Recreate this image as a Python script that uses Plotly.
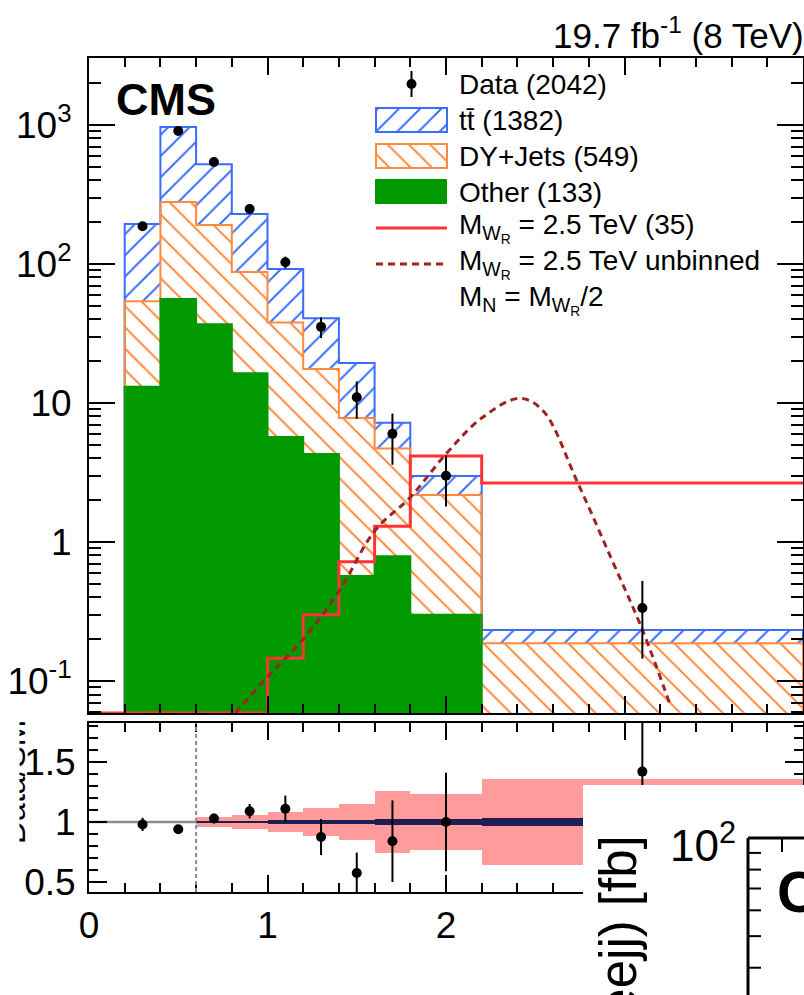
import numpy as np
import plotly.graph_objects as go

# ---------------- data (events / 0.2 TeV) ----------------
bin_edges = [0.2, 0.4, 0.6, 0.8, 1.0, 1.2, 1.4, 1.6, 1.8, 2.2, 4.0]
stack_total = [194, 968, 523, 229, 92, 40.8, 19.4, 7.2, 2.98, 0.233]   # ttbar + DY + other
stack_dy = [54, 279, 191, 87.5, 38, 17.6, 7.8, 4.7, 2.18, 0.187]       # DY + other
stack_other = [13.1, 56, 36.8, 16.4, 5.7, 4.3, 0.57, 0.79, 0.30, 0.01]

signal_edges = [0.0, 0.2, 0.4, 0.6, 0.8, 1.0, 1.2, 1.4, 1.6, 1.8, 2.2, 4.0]
signal_binned = [0, 0, 0, 0, 0, 0.146, 0.30, 0.72, 1.30, 4.16, 2.66]

unbinned_x = [0.82, 1.0, 1.2, 1.4, 1.6, 1.8, 2.0, 2.2, 2.41, 2.54, 2.74, 2.93, 3.1, 3.26]
unbinned_y = [0.059, 0.107, 0.20, 0.44, 1.2, 2.1, 4.3, 7.8, 10.8, 8.9, 2.63, 0.74, 0.234, 0.065]

data_x = [0.3, 0.5, 0.7, 0.9, 1.1, 1.3, 1.5, 1.7, 2.0, 3.1]
data_y = [187, 906, 542, 249, 103, 35.3, 11.0, 6.0, 3.0, 0.335]
data_err = [14, 30, 23, 16, 10, 6.0, 3.3, 2.4, 1.2, 0.19]

ratio_y = [0.98, 0.94, 1.03, 1.09, 1.11, 0.875, 0.575, 0.84, 1.0, 1.42]
ratio_err = [0.055, 0.03, 0.04, 0.06, 0.11, 0.15, 0.17, 0.34, 0.41, 0.8]

band_edges = [0.6, 0.8, 1.0, 1.2, 1.4, 1.6, 1.8, 2.2, 4.0]
band_syst = [0.044, 0.06, 0.085, 0.115, 0.15, 0.26, 0.23, 0.36]
band_stat = [0.012, 0.012, 0.014, 0.016, 0.02, 0.025, 0.028, 0.03]
cut_x = 0.6

y_tickvals = [0.1, 1, 10, 100, 1000]
y_ticktext = ["10<sup>-1</sup>", "1", "10", "10<sup>2</sup>", "10<sup>3</sup>"]

legend_labels = ["Data (2042)", "tt\u0304 (1382)", "DY+Jets (549)", "Other (133)",
                 "M<sub>W<sub>R</sub></sub> = 2.5 TeV (35)",
                 "M<sub>W<sub>R</sub></sub> = 2.5 TeV unbinned",
                 "M<sub>N</sub> = M<sub>W<sub>R</sub></sub>/2"]

# ---------------- style ----------------
FONT = "Liberation Sans, Arial, Helvetica, sans-serif"
C_TT = "#3a6cff"
C_DY = "#ff8a3d"
C_OT = "#009a00"
C_SIG = "#ff3333"
C_UNB = "#9b2424"
C_BAND = "#ff9b9b"
C_STAT = "#1e1e52"

W, H = 804, 995
PL, PR, PT, PB = 89, 803, 58, 995


def xp(px):
    return (px - PL) / (PR - PL)


def yp(py):
    return (PB - py) / (PB - PT)


def step_xy(edges, vals, floor):
    xs, ys = [edges[0]], [floor]
    for i, v in enumerate(vals):
        xs += [edges[i], edges[i + 1]]
        ys += [v, v]
    xs.append(edges[-1])
    ys.append(floor)
    return xs, ys


edges = np.array(bin_edges)
centers = (edges[:-1] + edges[1:]) / 2
widths = np.diff(edges)
LOG_MIN, LOG_MAX = -1.23, 3.482
y_floor = 10 ** LOG_MIN

fig = go.Figure()

# stacked backgrounds as overlaid fills
fig.add_trace(go.Bar(x=centers, y=stack_total, width=widths,
                     marker=dict(color="white", line=dict(width=0),
                                 pattern=dict(shape="/", fgcolor=C_TT, bgcolor="white",
                                              size=15, solidity=0.13, fillmode="replace")),
                     showlegend=False))
fig.add_trace(go.Bar(x=centers, y=stack_dy, width=widths,
                     marker=dict(color="white", line=dict(width=0),
                                 pattern=dict(shape="\\", fgcolor=C_DY, bgcolor="white",
                                              size=15, solidity=0.13, fillmode="replace")),
                     showlegend=False))
fig.add_trace(go.Bar(x=centers, y=stack_other, width=widths,
                     marker=dict(color=C_OT, line=dict(width=0)), showlegend=False))

# histogram outlines
for vals, col in [(stack_total, C_TT), (stack_dy, C_DY), (stack_other, C_OT)]:
    sx, sy = step_xy(bin_edges, vals, 1e-4)
    fig.add_trace(go.Scatter(x=sx, y=sy, mode="lines", line=dict(color=col, width=2),
                             showlegend=False, hoverinfo="skip"))

# signal, binned and unbinned
sig_vals = [v if v > 0 else y_floor for v in signal_binned]
sx, sy = step_xy(signal_edges, sig_vals, y_floor)
fig.add_trace(go.Scatter(x=sx[:-1], y=sy[:-1], mode="lines", line=dict(color=C_SIG, width=3),
                         showlegend=False))
fig.add_trace(go.Scatter(x=unbinned_x, y=unbinned_y, mode="lines",
                         line=dict(color=C_UNB, width=3, dash="7px,5px", shape="spline"),
                         showlegend=False))

# data
fig.add_trace(go.Scatter(x=data_x, y=data_y, mode="markers",
                         marker=dict(color="black", size=10),
                         error_y=dict(type="data", array=data_err, color="black",
                                      thickness=2, width=0),
                         showlegend=False))

# ---------------- ratio panel ----------------
bedges = np.array(band_edges)
bcent = (bedges[:-1] + bedges[1:]) / 2
bwid = np.diff(bedges)
bsyst = np.array(band_syst)
bstat = np.array(band_stat)
fig.add_trace(go.Bar(x=bcent, y=2 * bsyst, base=1 - bsyst, width=bwid,
                     marker=dict(color=C_BAND, line=dict(width=0)),
                     xaxis="x2", yaxis="y2", showlegend=False))
fig.add_trace(go.Bar(x=bcent, y=2 * bstat, base=1 - bstat, width=bwid,
                     marker=dict(color=C_STAT, line=dict(width=0)),
                     xaxis="x2", yaxis="y2", showlegend=False))
fig.add_trace(go.Scatter(x=[0, cut_x], y=[1, 1], mode="lines",
                         line=dict(color="#8c8c8c", width=2.5),
                         xaxis="x2", yaxis="y2", showlegend=False))
fig.add_trace(go.Scatter(x=data_x, y=ratio_y, mode="markers",
                         marker=dict(color="black", size=10),
                         error_y=dict(type="data", array=ratio_err, color="black",
                                      thickness=2, width=0),
                         xaxis="x2", yaxis="y2", showlegend=False))

# ---------------- legend block (pixel-scaled helper axes) ----------------
row0, drow = 84, 36
rows = [row0 + drow * i for i in range(len(legend_labels))]
sw_x0, sw_x1 = 376, 447
sw_c = (sw_x0 + sw_x1) / 2
sw_w = sw_x1 - sw_x0
box_h = 24

fig.add_trace(go.Scatter(x=[sw_c], y=[rows[0]], mode="markers",
                         marker=dict(color="black", size=10),
                         error_y=dict(type="constant", value=13, color="black",
                                      thickness=2, width=0),
                         xaxis="x3", yaxis="y3", showlegend=False))
for r, shp, col in [(rows[1], "/", C_TT), (rows[2], "\\", C_DY)]:
    fig.add_trace(go.Bar(x=[sw_c], y=[box_h], base=[r - box_h / 2], width=[sw_w],
                         marker=dict(color="white", line=dict(color=col, width=2),
                                     pattern=dict(shape=shp, fgcolor=col, bgcolor="white",
                                                  size=15, solidity=0.13, fillmode="replace")),
                         xaxis="x3", yaxis="y3", showlegend=False))
fig.add_trace(go.Bar(x=[sw_c], y=[box_h], base=[rows[3] - box_h / 2], width=[sw_w],
                     marker=dict(color=C_OT, line=dict(color=C_OT, width=1)),
                     xaxis="x3", yaxis="y3", showlegend=False))
fig.add_trace(go.Scatter(x=[sw_x0, sw_x1], y=[rows[4], rows[4]], mode="lines",
                         line=dict(color=C_SIG, width=3),
                         xaxis="x3", yaxis="y3", showlegend=False))
fig.add_trace(go.Scatter(x=[sw_x0, sw_x1], y=[rows[5], rows[5]], mode="lines",
                         line=dict(color=C_UNB, width=3, dash="7px,5px"),
                         xaxis="x3", yaxis="y3", showlegend=False))

annotations = []
for r, lab in zip(rows, legend_labels):
    annotations.append(dict(x=457, y=r, xref="x3", yref="y3", text=lab, showarrow=False,
                            xanchor="left", yanchor="middle",
                            font=dict(family=FONT, size=28, color="black")))

# labels
annotations.append(dict(x=xp(114), y=yp(100), xref="paper", yref="paper",
                        text="<b>CMS</b>", showarrow=False, xanchor="left", yanchor="middle",
                        font=dict(family=FONT, size=45, color="black")))
annotations.append(dict(x=xp(806), y=yp(33), xref="paper", yref="paper",
                        text="19.7 fb<sup>-1</sup> (8 TeV)", showarrow=False,
                        xanchor="right", yanchor="middle",
                        font=dict(family=FONT, size=35, color="black")))
annotations.append(dict(x=xp(14), y=yp(782), xref="paper", yref="paper",
                        text="Data/SM", showarrow=False, textangle=-90,
                        xanchor="center", yanchor="middle",
                        font=dict(family=FONT, size=32, color="black")))
# the page edge trims the left part of the ratio title
annotations.append(dict(x=xp(-4), y=yp(785), xref="paper", yref="paper",
                        text=" ", showarrow=False, xanchor="left", yanchor="middle",
                        width=22, height=150, bgcolor="white", borderpad=0,
                        font=dict(family=FONT, size=10, color="white")))

# ---------------- neighbouring panel in the lower right corner ----------------
shapes = [
    dict(type="line", xref="x2", yref="y2 domain", x0=cut_x, x1=cut_x, y0=0, y1=1,
         line=dict(color="#8c8c8c", width=2, dash="4px,3px"), layer="above"),
    dict(type="rect", xref="paper", yref="paper", x0=xp(583), x1=xp(812),
         y0=yp(1002), y1=yp(785), fillcolor="white", line=dict(width=0), layer="above"),
    dict(type="line", xref="paper", yref="paper", x0=xp(748), x1=xp(748),
         y0=yp(1002), y1=yp(838), line=dict(color="black", width=3), layer="above"),
    dict(type="line", xref="paper", yref="paper", x0=xp(748), x1=xp(812),
         y0=yp(838), y1=yp(838), line=dict(color="black", width=3), layer="above"),
    dict(type="line", xref="paper", yref="paper", x0=xp(782), x1=xp(782),
         y0=yp(838), y1=yp(852), line=dict(color="black", width=2), layer="above"),
]
inset_minor = [30, 40, 50, 60, 70, 80, 90]
for v in inset_minor:
    py = 838 + 326 * (2 - np.log10(v))
    shapes.append(dict(type="line", xref="paper", yref="paper", x0=xp(748), x1=xp(761),
                       y0=yp(py), y1=yp(py), line=dict(color="black", width=2),
                       layer="above"))
annotations.append(dict(x=xp(738), y=yp(842), xref="paper", yref="paper",
                        text="10<sup>2</sup>", showarrow=False, xanchor="right",
                        yanchor="middle", font=dict(family=FONT, size=44, color="black")))
annotations.append(dict(x=xp(775), y=yp(891), xref="paper", yref="paper",
                        text="<b>CMS</b>", showarrow=False, xanchor="left",
                        yanchor="middle", font=dict(family=FONT, size=58, color="black")))
annotations.append(dict(x=xp(622), y=yp(834), xref="paper", yref="paper",
                        text="\u03c3(pp \u2192 W<sub>R</sub>) \u00d7 B(W<sub>R</sub> \u2192 eejj) [fb]",
                        showarrow=False, textangle=-90, xanchor="center", yanchor="top",
                        font=dict(family=FONT, size=51, color="black")))

# ---------------- axes ----------------
tick_font = dict(family=FONT, size=37, color="black")
common = dict(showgrid=False, zeroline=False, showline=True, linecolor="black",
              linewidth=2, mirror="ticks", ticks="inside", tickcolor="black",
              tickwidth=2, automargin=False)

fig.update_layout(
    width=W, height=H,
    margin=dict(l=PL, r=W - PR, t=PT, b=0, autoexpand=False),
    paper_bgcolor="white", plot_bgcolor="rgba(0,0,0,0)",
    barmode="overlay", bargap=0,
    showlegend=False,
    font=dict(family=FONT, color="black"),
    xaxis=dict(domain=[0, 1], range=[0, 4], anchor="y", showticklabels=False,
               tick0=0, dtick=1, ticklen=17,
               minor=dict(ticks="inside", dtick=0.2, tick0=0, ticklen=9,
                          tickwidth=2, tickcolor="black"),
               **common),
    yaxis=dict(domain=[yp(713), 1], type="log", range=[LOG_MIN, LOG_MAX], anchor="x",
               tickmode="array", tickvals=y_tickvals, ticktext=y_ticktext,
               ticklen=26, tickfont=tick_font, ticklabelstandoff=8,
               minor=dict(ticks="inside", dtick="D1", ticklen=12, tickwidth=2,
                          tickcolor="black"),
               **common),
    xaxis2=dict(domain=[0, 1], range=[0, 4], anchor="y2", matches="x",
                tick0=0, dtick=1, ticklen=17, tickfont=tick_font,
                minor=dict(ticks="inside", dtick=0.2, tick0=0, ticklen=9,
                           tickwidth=2, tickcolor="black"),
                **common),
    yaxis2=dict(domain=[yp(892), yp(723)], range=[0.417, 1.825], anchor="x2",
                tick0=0, dtick=0.5, ticklen=18, tickfont=tick_font,
                ticklabelstandoff=4,
                minor=dict(ticks="inside", dtick=0.1, tick0=0, ticklen=9,
                           tickwidth=2, tickcolor="black"),
                **common),
    xaxis3=dict(domain=[0, 1], range=[PL, PR], anchor="y3", visible=False,
                fixedrange=True),
    yaxis3=dict(domain=[yp(713), 1], range=[713, PT], anchor="x3", visible=False,
                fixedrange=True),
    annotations=annotations,
    shapes=shapes,
)

fig.write_html("out.html")
